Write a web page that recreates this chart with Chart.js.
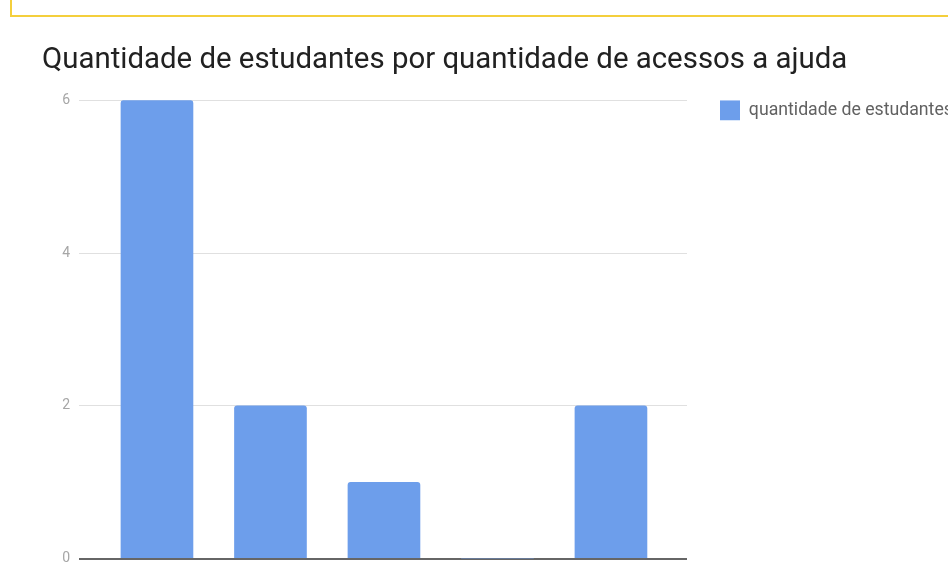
<!DOCTYPE html>
<html>
<head>
<meta charset="utf-8">
<script src="https://cdn.jsdelivr.net/npm/chart.js@4.4.1/dist/chart.umd.min.js"></script>
<style>
  html, body { margin: 0; padding: 0; background: #fff; overflow: hidden; }
  .frame { position: absolute; left: 10px; top: -20px; width: 1000px; height: 33px; border: 2px solid #f4cf3c; }
  .wrap { position: absolute; left: 0; top: 0; width: 948px; height: 567px; }
</style>
</head>
<body>
<div class="frame"></div>
<div class="wrap"><canvas id="chart" width="948" height="567"></canvas></div>
<script>
const categories = ['1', '2', '3', '4', '5'];
const studentCounts = [6, 2, 1, 0, 2];
const yTicks = [0, 2, 4, 6];
const seriesLabel = 'quantidade de estudantes';
const chartTitle = 'Quantidade de estudantes por quantidade de acessos a ajuda';

const FONT = "Roboto, 'Noto Sans', sans-serif";

const points = categories.map((label, i) => ({ x: i, y: studentCounts[i] }));

new Chart(document.getElementById('chart'), {
  type: 'bar',
  data: {
    datasets: [
      {
        label: seriesLabel,
        data: points,
        backgroundColor: '#6d9eeb',
        borderRadius: 3,
        borderSkipped: 'start',
        barThickness: 72
      }
    ]
  },
  options: {
    responsive: false,
    animation: false,
    layout: {
      padding: { left: 42, right: 0, top: 0, bottom: 8 }
    },
    plugins: {
      title: {
        display: true,
        text: chartTitle,
        align: 'start',
        color: '#212121',
        font: { family: FONT, size: 29.4, weight: 'normal' },
        padding: { top: 43, bottom: 22 }
      },
      legend: {
        position: 'right',
        align: 'start',
        fullSize: false,
        maxWidth: 228,
        labels: {
          boxWidth: 20,
          boxHeight: 20,
          padding: 0,
          color: '#616161',
          font: { family: FONT, size: 17.7 }
        }
      },
      tooltip: {
        callbacks: {
          title: (items) => categories[items[0].parsed.x]
        }
      }
    },
    scales: {
      x: {
        type: 'linear',
        offset: false,
        min: -0.687,
        max: 4.67,
        display: false
      },
      y: {
        min: 0,
        max: 6,
        afterFit: (scale) => { scale.width = 37; },
        afterBuildTicks: (scale) => { scale.ticks = yTicks.map((v) => ({ value: v })); },
        border: { display: false },
        grid: {
          drawTicks: true,
          tickLength: 9,
          tickColor: 'rgba(0,0,0,0)',
          color: (ctx) => (ctx.tick && ctx.tick.value === 0 ? '#666666' : '#e0e0e0'),
          lineWidth: (ctx) => (ctx.tick && ctx.tick.value === 0 ? 2 : 1)
        },
        ticks: {
          padding: 0,
          color: '#a6a6a6',
          font: { family: FONT, size: 14 }
        }
      },
      gap: {
        type: 'linear',
        position: 'right',
        display: true,
        afterFit: (scale) => { scale.width = 33; },
        border: { display: false },
        grid: { display: false },
        ticks: { display: false }
      }
    }
  }
});
</script>
</body>
</html>
